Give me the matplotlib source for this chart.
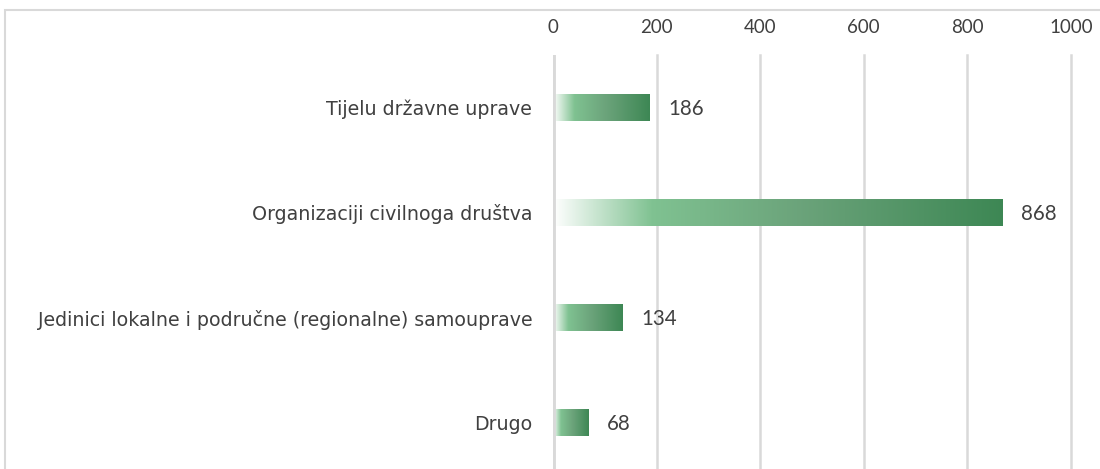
import numpy as np
import matplotlib.pyplot as plt
from matplotlib.colors import LinearSegmentedColormap
from matplotlib.patches import Rectangle

# podaci
kategorije = ["Tijelu državne uprave", "Organizaciji civilnoga društva",
              "Jedinici lokalne i područne (regionalne) samouprave", "Drugo"]
vrijednosti = [186, 868, 134, 68]
x_ticks = [0, 200, 400, 600, 800, 1000]

plt.rcParams['font.family'] = ['Lato', 'DejaVu Sans']
tekst = "#404040"

fig = plt.figure(figsize=(11, 4.69), dpi=100)
# okvir grafikona
fig.add_artist(Rectangle((5 / 1100, -0.1), 1.2, 1 - 10 / 469 + 0.1, transform=fig.transFigure,
                         fill=False, edgecolor="#d9d9d9", linewidth=1.5))

ax = fig.add_axes([553 / 1100, -6 / 469, 518 / 1100, 420 / 469])

# gradijent (bijelo -> svijetlo zelena -> tamno zelena)
cmap = LinearSegmentedColormap.from_list("zelena", [
    (0.0, (1, 1, 1, 1)),
    (0.22, (0.50, 0.76, 0.57, 1)),
    (0.55, (0.42, 0.64, 0.48, 1)),
    (1.0, (0.24, 0.53, 0.33, 1)),
])
grad = np.linspace(0, 1, 256).reshape(1, -1)
visina = 0.25
for i, v in enumerate(vrijednosti):
    ax.imshow(grad, cmap=cmap, aspect="auto", interpolation="bilinear",
              extent=(0, v, i + visina / 2, i - visina / 2), zorder=2)
    ax.text(v + 36, i + 0.01, str(v), va="center", ha="left", fontsize=14.8, color=tekst)
ax.set_xlim(0, 1000)
ax.set_ylim(len(kategorije) - 0.5, -0.5)

for t in x_ticks[1:]:
    ax.axvline(t, color="#d9d9d9", linewidth=1.8, zorder=1, clip_on=False)
ax.axvline(0, color="#d9d9d9", linewidth=3.5, zorder=3)

ax.set_xticks(x_ticks)
ax.xaxis.tick_top()
ax.tick_params(axis="x", length=0, pad=14, labelsize=13.5, labelcolor=tekst)
ax.set_yticks(range(len(kategorije)))
ax.set_yticklabels(kategorije, family=["DejaVu Sans"])
ax.tick_params(axis="y", length=0, pad=15, labelsize=13.7, labelcolor=tekst)
for lbl in ax.get_yticklabels():
    lbl.set_va("center_baseline")
for s in ax.spines.values():
    s.set_visible(False)

fig.savefig("out.png", dpi=100)
